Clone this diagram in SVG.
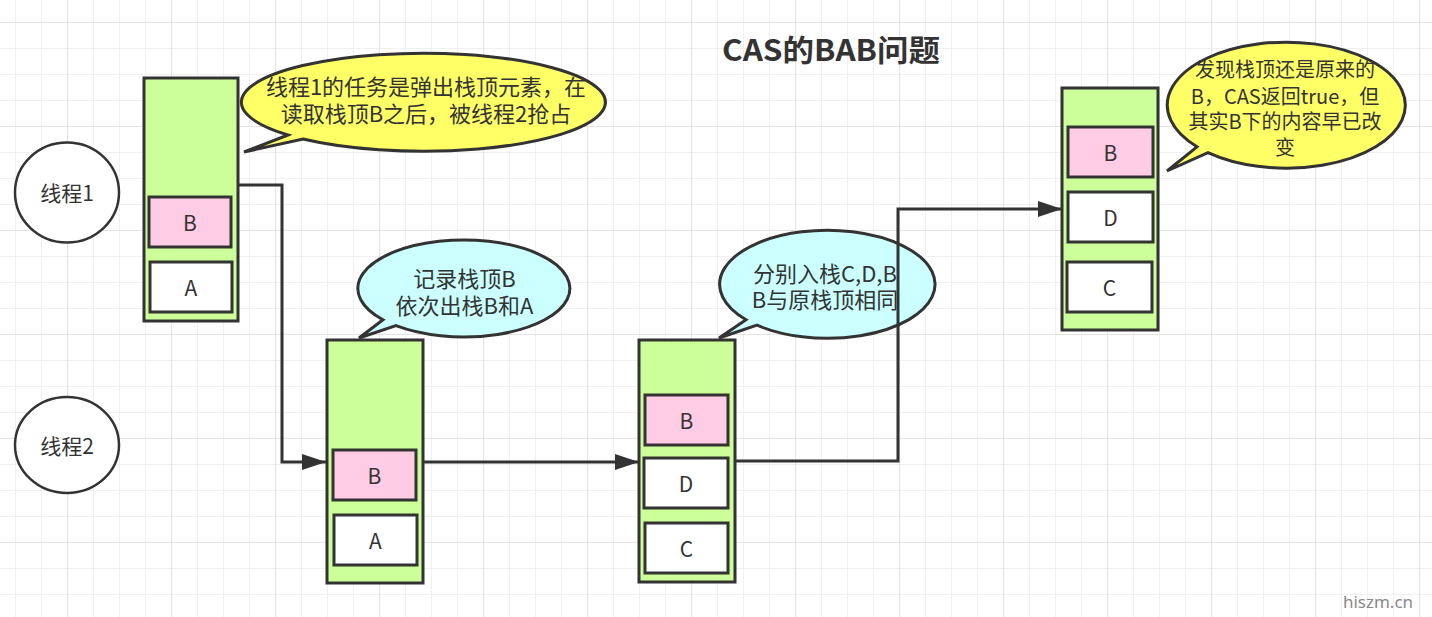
<svg xmlns="http://www.w3.org/2000/svg" width="1432" height="617" viewBox="0 0 1432 617">
<style>
.t{font-family:"Noto Sans CJK SC","Liberation Sans",sans-serif;fill:#333333;text-anchor:middle;dominant-baseline:central}
.stack{fill:#ccff99;stroke:#333333;stroke-width:3}
.pink{fill:#ffcce6;stroke:#333333;stroke-width:3}
.white{fill:#ffffff;stroke:#333333;stroke-width:3}
.thread{fill:#ffffff;stroke:#333333;stroke-width:2.5}
.yel{fill:#ffff66;stroke:#333333;stroke-width:3;stroke-linejoin:miter}
.cyan{fill:#ccffff;stroke:#333333;stroke-width:3;stroke-linejoin:miter}
.edge{fill:none;stroke:#333333;stroke-width:3;marker-end:url(#arr)}
</style>
<defs>
<pattern id="grid" patternUnits="userSpaceOnUse" x="67" y="22" width="104" height="104">
<path d="M26.5 0V104M52.5 0V104M78.5 0V104M0 26.5H104M0 52.5H104M0 78.5H104" stroke="#f0f0f0" stroke-width="1" fill="none"/>
<path d="M0.5 0V104M0 0.5H104" stroke="#e3e3e3" stroke-width="1" fill="none"/>
</pattern>
<marker id="arr" markerUnits="userSpaceOnUse" markerWidth="26" markerHeight="18" refX="24" refY="8" orient="auto">
<path d="M0 0L24 8L0 16Z" fill="#333333"/>
</marker>
</defs>
<rect width="1432" height="617" fill="#ffffff"/>
<rect width="1432" height="617" fill="url(#grid)"/>

<text class="t" x="831" y="48" font-size="30" font-weight="bold" textLength="218" lengthAdjust="spacingAndGlyphs">CAS的BAB问题</text>

<g id="thread1">
<ellipse class="thread" cx="67" cy="192.5" rx="52" ry="50"/>
<text class="t" x="67" y="192" font-size="21">线程1</text>
</g>
<g id="thread2">
<ellipse class="thread" cx="67" cy="445" rx="52" ry="48"/>
<text class="t" x="67" y="445" font-size="21">线程2</text>
</g>

<g id="stack1">
<rect class="stack" x="144" y="78" width="94" height="243"/>
<rect class="pink" x="149" y="197" width="82" height="50"/>
<text class="t" x="190" y="222" font-size="21">B</text>
<rect class="white" x="150" y="262" width="82" height="50"/>
<text class="t" x="191" y="287" font-size="21">A</text>
</g>

<g id="stack2">
<rect class="stack" x="327" y="340" width="96" height="243"/>
<rect class="pink" x="333" y="450" width="83" height="50"/>
<text class="t" x="374.5" y="475" font-size="21">B</text>
<rect class="white" x="334" y="515" width="83" height="50"/>
<text class="t" x="375.5" y="540" font-size="21">A</text>
</g>

<g id="stack3">
<rect class="stack" x="639" y="340" width="96" height="242"/>
<rect class="pink" x="645" y="395" width="83" height="50"/>
<text class="t" x="686.5" y="420" font-size="21">B</text>
<rect class="white" x="644" y="458" width="84" height="50"/>
<text class="t" x="686" y="483" font-size="21">D</text>
<rect class="white" x="645" y="523" width="83" height="50"/>
<text class="t" x="686.5" y="548" font-size="21">C</text>
</g>

<g id="stack4">
<rect class="stack" x="1062" y="88" width="96" height="242"/>
<rect class="pink" x="1068" y="127" width="85" height="50"/>
<text class="t" x="1110.5" y="152" font-size="21">B</text>
<rect class="white" x="1068" y="192" width="85" height="50"/>
<text class="t" x="1110.5" y="217" font-size="21">D</text>
<rect class="white" x="1067" y="262" width="85" height="50"/>
<text class="t" x="1109.5" y="287" font-size="21">C</text>
</g>

<g id="callout1">
<path class="yel" d="M288 135L244 152L303 139A182 49 0 1 0 288 135Z"/>
<text class="t" font-size="22"><tspan x="426" y="85">线程1的任务是弹出栈顶元素，在</tspan><tspan x="426" y="111.5">读取栈顶B之后，被线程2抢占</tspan></text>
</g>

<g id="callout2">
<path class="cyan" d="M383 319.8L359 338L396 325.7A106 48.5 0 1 0 383 319.8Z"/>
<text class="t" font-size="22"><tspan x="464.5" y="277">记录栈顶B</tspan><tspan x="464.5" y="304">依次出栈B和A</tspan></text>
</g>

<g id="callout3">
<path class="cyan" d="M746 319.7L719 338L757 325.2A107.7 54 0 1 0 746 319.7Z"/>
<text class="t" font-size="22"><tspan x="825" y="271.5">分别入栈C,D,B</tspan><tspan x="825" y="298">B与原栈顶相同</tspan></text>
</g>

<g id="callout4">
<path class="yel" d="M1197 146.8L1167 171L1208 152.6A119 63 0 1 0 1197 146.8Z"/>
<text class="t" font-size="20"><tspan x="1285" y="68">发现栈顶还是原来的</tspan><tspan x="1285" y="94.5">B，CAS返回true，但</tspan><tspan x="1285" y="120">其实B下的内容早已改</tspan><tspan x="1285" y="146">变</tspan></text>
</g>

<g id="connectors">
<path class="edge" d="M238 185H282V462H326"/>
<path class="edge" d="M423 462H639"/>
<path class="edge" d="M735 461H898V209H1062"/>
</g>

<text x="1378" y="601" font-family="'Noto Sans','Liberation Sans',sans-serif" font-size="17" fill="#8a8a8a" text-anchor="middle" dominant-baseline="central">hiszm.cn</text>
</svg>
